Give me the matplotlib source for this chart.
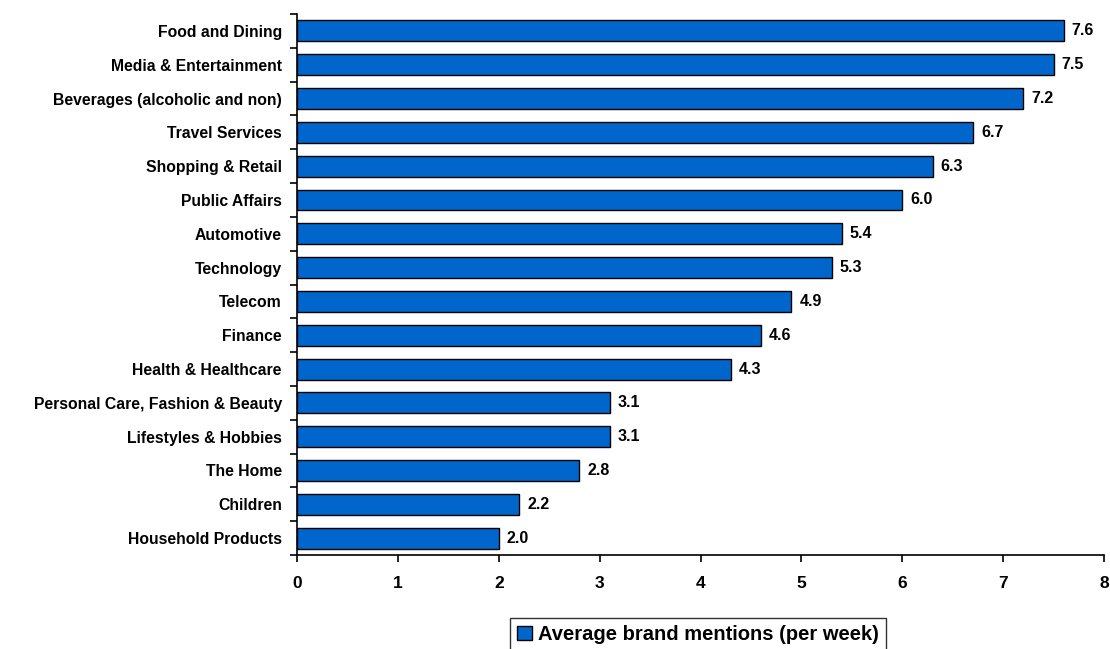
import matplotlib.pyplot as plt
import numpy as np

categories = ["Food and Dining", "Media & Entertainment", "Beverages (alcoholic and non)",
              "Travel Services", "Shopping & Retail", "Public Affairs", "Automotive",
              "Technology", "Telecom", "Finance", "Health & Healthcare",
              "Personal Care, Fashion & Beauty", "Lifestyles & Hobbies", "The Home",
              "Children", "Household Products"]
values = [7.6, 7.5, 7.2, 6.7, 6.3, 6.0, 5.4, 5.3, 4.9, 4.6, 4.3, 3.1, 3.1, 2.8, 2.2, 2.0]
series_name = "Average brand mentions (per week)"

plt.rcParams['font.family'] = ['Liberation Sans', 'DejaVu Sans']
plt.rcParams['font.weight'] = 'bold'

fig = plt.figure(figsize=(11.1, 6.49), dpi=100)
ax = fig.add_axes([0.2676, 0.1448, 0.7270, 0.8336])

y = np.arange(len(categories))
ax.barh(y, values, height=0.62, color='#0066CC', edgecolor='black', linewidth=1,
        label=series_name)
for yi, v in zip(y, values):
    ax.text(v + 0.08, yi, f"{v:.1f}", va='center', ha='left', fontsize=11.5, fontweight='bold')

ax.set_xlim(0, 8)
ax.set_ylim(len(categories) - 0.5, -0.5)
ax.set_yticks(y)
ax.set_yticklabels(categories, fontsize=11.3, fontweight='bold')
ax.set_yticks(np.arange(-0.5, len(categories)), minor=True)
ax.tick_params(axis='y', which='major', length=0, pad=11)
ax.tick_params(axis='y', which='minor', length=5, width=1.2, direction='out')
ax.set_xticks(range(0, 9))
ax.tick_params(axis='x', length=5, width=1.2, labelsize=12.5, pad=10)
for lab in ax.get_xticklabels():
    lab.set_fontweight('bold')

for s in ['top', 'right']:
    ax.spines[s].set_visible(False)
ax.spines['left'].set_linewidth(1.2)
ax.spines['bottom'].set_linewidth(1.2)

leg = ax.legend(loc='upper left', bbox_to_anchor=(0.264, -0.1165), borderaxespad=0,
                frameon=True, fancybox=False, edgecolor='black', handlelength=0.75,
                handleheight=0.75, handletextpad=0.3, borderpad=0.35,
                prop={'weight': 'bold', 'size': 14.5})
leg.get_frame().set_linewidth(1)

fig.savefig('out.png', dpi=100)
